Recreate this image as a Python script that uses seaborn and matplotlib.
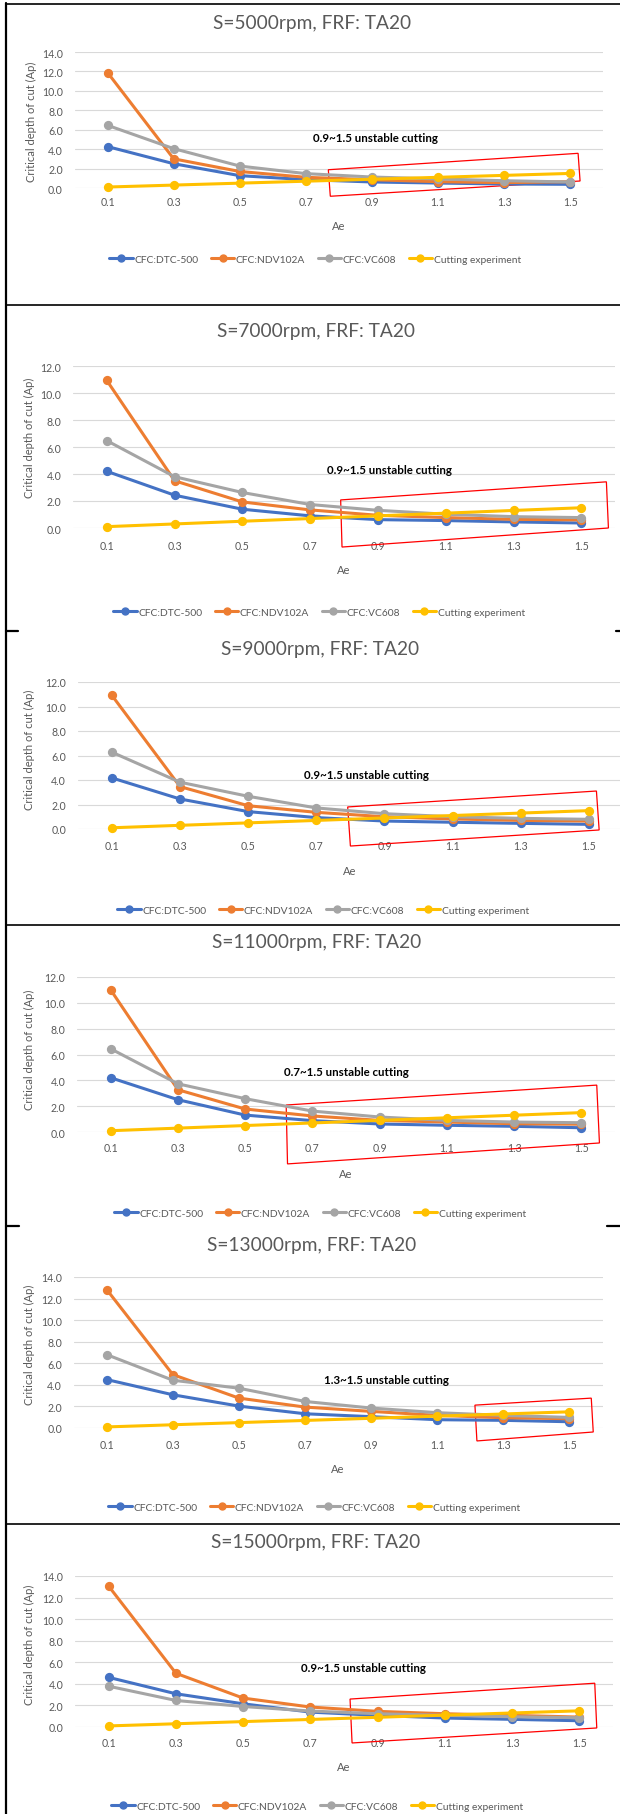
import numpy as np
import pandas as pd
import matplotlib
matplotlib.use("Agg")
import matplotlib.pyplot as plt
import seaborn as sns
from matplotlib.lines import Line2D
from matplotlib.patches import Polygon

# ---------------- data ----------------
ae_labels = ["0.1", "0.3", "0.5", "0.7", "0.9", "1.1", "1.3", "1.5"]
series_names = ["CFC:DTC-500", "CFC:NDV102A", "CFC:VC608", "Cutting experiment"]
series_colors = ["#4472C4", "#ED7D31", "#A5A5A5", "#FFC000"]
speeds = [5000, 7000, 9000, 11000, 13000, 15000]

experiment = [0.1, 0.3, 0.5, 0.7, 0.9, 1.1, 1.3, 1.5]

dtc_5000 = [4.26, 2.50, 1.27, 0.86, 0.62, 0.51, 0.41, 0.38]
ndv_5000 = [11.87, 3.00, 1.70, 1.10, 0.85, 0.65, 0.55, 0.65]
vc_5000 = [6.45, 4.05, 2.26, 1.48, 1.13, 0.93, 0.75, 0.62]

dtc_7000 = [4.20, 2.43, 1.39, 0.90, 0.62, 0.55, 0.45, 0.37]
ndv_7000 = [10.93, 3.50, 1.93, 1.34, 0.94, 0.77, 0.64, 0.60]
vc_7000 = [6.47, 3.80, 2.63, 1.74, 1.31, 1.02, 0.84, 0.77]

dtc_9000 = [4.17, 2.45, 1.42, 0.93, 0.65, 0.55, 0.46, 0.38]
ndv_9000 = [10.91, 3.46, 1.90, 1.36, 1.00, 0.82, 0.70, 0.65]
vc_9000 = [6.27, 3.82, 2.67, 1.72, 1.25, 1.00, 0.87, 0.79]

dtc_11000 = [4.20, 2.50, 1.31, 0.88, 0.62, 0.52, 0.44, 0.33]
ndv_11000 = [11.00, 3.27, 1.78, 1.24, 0.90, 0.77, 0.64, 0.60]
vc_11000 = [6.44, 3.73, 2.58, 1.62, 1.16, 0.90, 0.77, 0.72]

dtc_13000 = [4.49, 3.08, 2.03, 1.32, 1.05, 0.77, 0.71, 0.58]
ndv_13000 = [12.83, 4.95, 2.77, 1.94, 1.54, 1.17, 0.95, 0.86]
vc_13000 = [6.80, 4.43, 3.69, 2.46, 1.85, 1.42, 1.17, 0.98]

dtc_15000 = [4.60, 3.08, 2.15, 1.38, 1.08, 0.83, 0.71, 0.58]
ndv_15000 = [13.05, 4.98, 2.68, 1.85, 1.45, 1.23, 1.08, 0.92]
vc_15000 = [3.78, 2.46, 1.90, 1.48, 1.23, 1.08, 0.95, 0.86]

panel_series = [
    (dtc_5000, ndv_5000, vc_5000),
    (dtc_7000, ndv_7000, vc_7000),
    (dtc_9000, ndv_9000, vc_9000),
    (dtc_11000, ndv_11000, vc_11000),
    (dtc_13000, ndv_13000, vc_13000),
    (dtc_15000, ndv_15000, vc_15000),
]
panel_notes = ["0.9~1.5 unstable cutting", "0.9~1.5 unstable cutting",
               "0.9~1.5 unstable cutting", "0.7~1.5 unstable cutting",
               "1.3~1.5 unstable cutting", "0.9~1.5 unstable cutting"]
panel_ymax = [14, 12, 12, 12, 14, 14]

# ---------------- layout (pixels) ----------------
W, H = 620, 1815
layout = [
    dict(ax=(74.6, 603.2, 53, 189), title=(312, 23), ylab=(31.6, 122), xlab=(339, 226),
         leg=(315, 260), note=(375, 138), tick=204,
         box=[(3.34, 1.88), (7.12, 3.57), (7.15, 0.72), (3.37, -0.85)]),
    dict(ax=(72.9, 615.2, 367, 529), title=(316, 332), ylab=(29.7, 438), xlab=(344, 571),
         leg=(319, 613), note=(389, 471), tick=547,
         box=[(3.45, 2.08), (7.37, 3.42), (7.40, 0.0), (3.47, -1.41)]),
    dict(ax=(77.8, 623.0, 683, 830), title=(320, 649), ylab=(29.7, 750), xlab=(350, 872),
         leg=(323, 911), note=(366, 776), tick=848,
         box=[(3.46, 1.8), (7.11, 3.1), (7.15, -0.08), (3.50, -1.39)]),
    dict(ax=(77.1, 614.9, 978, 1133), title=(317, 943), ylab=(29.7, 1050), xlab=(346, 1175),
         leg=(320, 1214), note=(346, 1072), tick=1150,
         box=[(2.61, 2.09), (7.23, 3.63), (7.27, -0.85), (2.63, -2.47)]),
    dict(ax=(73.7, 602.5, 1278, 1429), title=(312, 1245), ylab=(29.7, 1345), xlab=(338, 1470),
         leg=(314, 1508), note=(386, 1381), tick=1447,
         box=[(5.57, 2.12), (7.33, 2.77), (7.36, -0.37), (5.60, -1.2)]),
    dict(ax=(75.1, 612.9, 1577, 1728), title=(316, 1543), ylab=(29.7, 1645), xlab=(344, 1768),
         leg=(317, 1807), note=(363, 1669), tick=1745,
         box=[(3.59, 2.59), (7.23, 4.06), (7.26, -0.09), (3.62, -1.48)]),
]

sns.set_theme(style="white")
plt.rcParams["font.family"] = ["Lato", "DejaVu Sans"]
GRAY_TXT = "#595959"

fig = plt.figure(figsize=(W / 100, H / 100), dpi=100)


def fx(x):
    return x / W


def fy(y):
    return 1 - y / H


for i, (speed, (dtc, ndv, vc), note, ymax, lay) in enumerate(
        zip(speeds, panel_series, panel_notes, panel_ymax, layout)):
    x0, x1, y0, y1 = lay["ax"]
    ax = fig.add_axes([fx(x0), fy(y1), (x1 - x0) / W, (y1 - y0) / H])
    df = pd.DataFrame({
        "Ae": ae_labels * 4,
        "value": list(dtc) + list(ndv) + list(vc) + list(experiment),
        "series": sum([[n] * len(ae_labels) for n in series_names], []),
    })
    sns.pointplot(data=df, x="Ae", y="value", hue="series", hue_order=series_names,
                  order=ae_labels, palette=series_colors, markers="o", linestyles="-",
                  errorbar=None, ax=ax, legend=False, markersize=5, linewidth=2.2)
    for art in ax.lines + ax.collections:
        art.set_clip_on(False)
    ax.set_xlim(-0.5, len(ae_labels) - 0.5)
    ax.set_ylim(0, ymax)
    yt = np.arange(0, ymax + 0.1, 2)
    ax.set_yticks(yt)
    ax.set_yticklabels([f"{v:.1f}" for v in yt])
    ax.yaxis.grid(True, color="#D9D9D9", lw=0.8)
    ax.set_axisbelow(True)
    for s in ax.spines.values():
        s.set_visible(False)
    ax.set_xlabel("")
    ax.set_ylabel("")
    xpad = ((lay["tick"] - y1) - 6.5) * 0.72
    ax.tick_params(axis="x", length=0, pad=xpad, labelsize=7.6, labelcolor=GRAY_TXT)
    ax.tick_params(axis="y", length=0, pad=8.5, labelsize=7.6, labelcolor=GRAY_TXT)

    fig.text(fx(lay["title"][0]), fy(lay["title"][1]), f"S={speed}rpm, FRF: TA20",
             ha="center", va="center", fontsize=13.8, color=GRAY_TXT)
    fig.text(fx(lay["ylab"][0]), fy(lay["ylab"][1]), "Critical depth of cut (Ap)",
             rotation=90, ha="center", va="center", fontsize=8.0, color=GRAY_TXT)
    fig.text(fx(lay["xlab"][0]), fy(lay["xlab"][1]), "Ae",
             ha="center", va="center", fontsize=8, color=GRAY_TXT)
    fig.text(fx(lay["note"][0]), fy(lay["note"][1]), note,
             ha="center", va="center", fontsize=8.3, fontweight="bold", color="black")

    poly = Polygon(lay["box"], closed=True, fill=False, edgecolor="#FF0000", lw=0.9,
                   transform=ax.transData, clip_on=False)
    ax.add_patch(poly)

    handles = [Line2D([0], [0], color=c, lw=2.2, marker="o", markersize=5) for c in series_colors]
    fig.legend(handles, series_names, loc="center", ncol=4, frameon=False,
               bbox_to_anchor=(fx(lay["leg"][0]), fy(lay["leg"][1])),
               bbox_transform=fig.transFigure, fontsize=7.4, handlelength=2.3,
               handletextpad=0.15, columnspacing=1.2, labelcolor=GRAY_TXT)

# ---------------- composite borders ----------------
def hline(y, xa, xb, lw=1.2):
    fig.add_artist(Line2D([fx(xa), fx(xb)], [fy(y), fy(y)], color="black", lw=lw,
                          transform=fig.transFigure))

fig.add_artist(Line2D([fx(6), fx(6)], [fy(4), fy(1815)], color="black", lw=1.6,
                      transform=fig.transFigure))
hline(5, 6, 620)
hline(306, 6, 620)
hline(632, 6, 18, lw=1.6)
hline(632, 616, 620, lw=1.6)
hline(926, 6, 620)
hline(1227, 6, 19, lw=1.6)
hline(1227, 607, 620, lw=1.6)
hline(1525, 6, 620)

fig.savefig("out.png", dpi=100)
